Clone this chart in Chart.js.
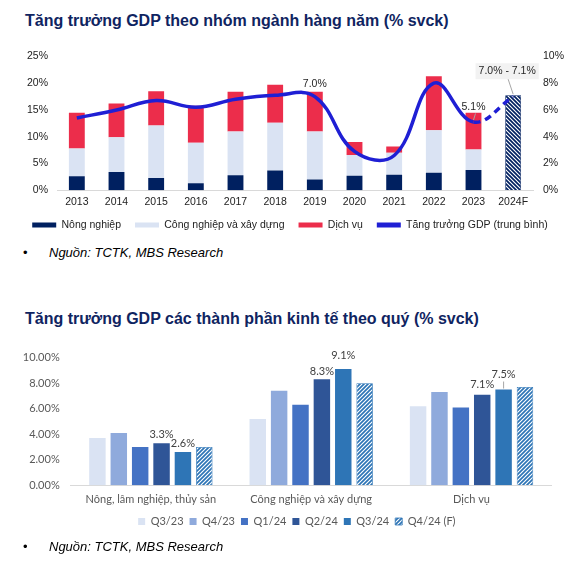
<!DOCTYPE html>
<html><head><meta charset="utf-8">
<script src="https://cdn.jsdelivr.net/npm/chart.js@4.4.1/dist/chart.umd.min.js"></script>
<style>
html,body{margin:0;padding:0;background:#fff;width:580px;height:565px;overflow:hidden;position:relative;font-family:"Liberation Sans",Arial,sans-serif;}
.title{position:absolute;left:25px;font-weight:bold;font-size:16px;line-height:16px;color:#0f2461;white-space:nowrap;}
.src{position:absolute;font-size:13px;line-height:13px;color:#000;white-space:nowrap;}
canvas{position:absolute;left:0;}
</style></head><body>
<div class="title" style="top:13px">Tăng trưởng GDP theo nhóm ngành hàng năm (% svck)</div>
<canvas id="c1" width="580" height="215" style="top:30px"></canvas>
<div class="src" style="top:246px;left:23px">•</div>
<div class="src" style="top:246px;left:49px;font-style:italic">Nguồn: TCTK, MBS Research</div>
<div class="title" style="top:311px">Tăng trưởng GDP các thành phần kinh tế theo quý (% svck)</div>
<canvas id="c2" width="580" height="200" style="top:340px"></canvas>
<div class="src" style="top:540px;left:23px">•</div>
<div class="src" style="top:540px;left:49px;font-style:italic">Nguồn: TCTK, MBS Research</div>
<script>
// ---------- Chart 1 data ----------
const years = ['2013','2014','2015','2016','2017','2018','2019','2020','2021','2022','2023','2024F'];
const agri     = [2.6, 3.4, 2.3, 1.3, 2.8, 3.7, 2.0, 2.7, 2.9, 3.3, 3.8, null];
const industry = [5.2, 6.5, 9.8, 7.6, 8.2, 8.9, 9.0, 3.9, 4.1, 7.9, 3.8, null];
const services = [6.7, 6.3, 6.4, 6.9, 7.4, 7.1, 7.4, 2.4, 1.2, 10.1, 6.9, null];
const forecast2024 = [null, null, null, null, null, null, null, null, null, null, null, 7.1];
const gdp      = [5.4, 6.0, 6.7, 6.2, 6.8, 7.1, 7.0, 2.9, 2.6, 8.0, 5.1, 7.0];
const chart1Labels = ['7.0%', '5.1%', '7.0% - 7.1%'];
const series1Names = ['Nông nghiệp', 'Công nghiệp và xây dựng', 'Dịch vụ', 'Tăng trưởng GDP (trung bình)', '2024F'];

// ---------- Chart 2 data ----------
const sectors  = ['Nông, lâm nghiệp, thủy sản', 'Công nghiệp và xây dựng', 'Dịch vụ'];
const quarters = ['Q3/23', 'Q4/23', 'Q1/24', 'Q2/24', 'Q3/24', 'Q4/24 (F)'];
const q3_23  = [3.7, 5.2, 6.2];
const q4_23  = [4.1, 7.4, 7.3];
const q1_24  = [3.0, 6.3, 6.1];
const q2_24  = [3.3, 8.3, 7.1];
const q3_24  = [2.6, 9.1, 7.5];
const q4_24f = [3.0, 8.0, 7.7];
const chart2Labels = ['3.3%', '2.6%', '8.3%', '9.1%', '7.1%', '7.5%'];

// ---------- helpers ----------
function hatch(color, dir, s) {
  const c = document.createElement('canvas'); c.width = s; c.height = s;
  const g = c.getContext('2d');
  g.fillStyle = '#fff'; g.fillRect(0, 0, s, s);
  g.strokeStyle = color; g.lineWidth = s * 0.42;
  g.beginPath();
  for (let k = -1; k <= 1; k++) {
    if (dir === '/') { g.moveTo(k * s - 1, s + 1); g.lineTo(k * s + s + 1, -1); }
    else { g.moveTo(k * s - 1, -1); g.lineTo(k * s + s + 1, s + 1); }
  }
  g.stroke();
  return g.createPattern(c, 'repeat');
}

const labelPlugin = {
  id: 'valLabels',
  afterDatasetsDraw(chart, args, opts) {
    const ctx = chart.ctx;
    (opts.items || []).forEach(it => {
      const el = chart.getDatasetMeta(it.ds).data[it.idx];
      if (!el) return;
      const x = el.x + (it.dx || 0), y = el.y - it.dy;
      ctx.save();
      ctx.font = opts.font;
      if (it.box) {
        const w = ctx.measureText(it.text).width + 2 * it.box.padX;
        ctx.fillStyle = it.box.fill;
        ctx.fillRect(x - w / 2, y - it.box.h / 2, w, it.box.h);
      }
      if (it.leader) {
        ctx.strokeStyle = '#a6a6a6'; ctx.lineWidth = 1;
        ctx.beginPath();
        ctx.moveTo(x + it.leader[0], y + it.leader[1]);
        ctx.lineTo(el.x, el.y - it.leader[2]);
        ctx.stroke();
      }
      ctx.fillStyle = opts.color; ctx.textAlign = 'center'; ctx.textBaseline = 'middle';
      ctx.fillText(it.text, x, y);
      ctx.restore();
    });
  }
};

const legendShift = {
  id: 'legendShift',
  afterLayout(chart, args, opts) {
    if (chart.legend && opts.dx) { chart.legend.left += opts.dx; chart.legend.right += opts.dx; }
  }
};

Chart.defaults.font.family = '"Liberation Sans", Arial, sans-serif';
Chart.defaults.plugins.tooltip.enabled = false;

// ---------- Chart 1 ----------
const navy = '#002060', lightBlue = '#dae3f3', red = '#ec2d4b', lineBlue = '#1f1fd4';
new Chart(document.getElementById('c1'), {
  type: 'bar',
  data: {
    labels: years,
    datasets: [
      { label: series1Names[0], data: agri, backgroundColor: navy, stack: 's', yAxisID: 'y' },
      { label: series1Names[1], data: industry, backgroundColor: lightBlue, stack: 's', yAxisID: 'y' },
      { label: series1Names[2], data: services, backgroundColor: red, stack: 's', yAxisID: 'y' },
      { label: series1Names[3], type: 'line', data: gdp, borderColor: lineBlue, backgroundColor: lineBlue,
        borderWidth: 3.5, pointRadius: 0, tension: 0.4, yAxisID: 'y1', order: -1,
        segment: { borderDash: c => c.p0DataIndex >= 10 ? [7, 5] : undefined } },
      { label: series1Names[4], data: forecast2024, backgroundColor: hatch(navy, '\\', 4),
        borderColor: navy, borderWidth: 0.8, stack: 's', yAxisID: 'y1' }
    ]
  },
  options: {
    responsive: false, animation: false,
    layout: { padding: { top: 26.4, bottom: 4.7, left: 0, right: 0 } },
    datasets: { bar: { barPercentage: 0.4, categoryPercentage: 1 } },
    scales: {
      x: {
        grid: { display: false, drawTicks: false },
        border: { display: true, color: '#d9d9d9' },
        ticks: { color: '#222', font: { size: 10.5 }, padding: 6 },
        afterFit: s => { s.height = 15.5; }
      },
      y: {
        position: 'left', min: 0, max: 25,
        grid: { display: false, drawTicks: false }, border: { display: false },
        ticks: { stepSize: 5, color: '#222', font: { size: 10.5 }, padding: 9, callback: v => v + '%' },
        afterFit: s => { s.width = 57; }
      },
      y1: {
        position: 'right', min: 0, max: 10,
        grid: { display: false, drawTicks: false }, border: { display: false },
        ticks: { stepSize: 2, color: '#222', font: { size: 10.5 }, padding: 10, callback: v => v + '%' },
        afterFit: s => { s.width = 47; }
      }
    },
    plugins: {
      legend: {
        position: 'bottom',
        labels: {
          boxWidth: 24, boxHeight: 5, padding: 14, color: '#222', font: { size: 10.5 },
          filter: item => item.datasetIndex !== 4,
          sort: (a, b) => a.datasetIndex - b.datasetIndex,
          generateLabels: chart => Chart.defaults.plugins.legend.labels.generateLabels(chart)
            .map(i => Object.assign(i, { lineWidth: 0, lineDash: [] }))
        }
      },
      valLabels: {
        font: '10.5px "Liberation Sans", Arial, sans-serif', color: '#262626',
        items: [
          { ds: 3, idx: 6, text: chart1Labels[0], dy: 12 },
          { ds: 3, idx: 10, text: chart1Labels[1], dy: 14.5, leader: [2, 6, 2] },
          { ds: 4, idx: 11, text: chart1Labels[2], dy: 24, dx: -6, box: { fill: '#f2f2f2', h: 16, padX: 3 }, leader: [1, 8, 1] }
        ]
      }
    }
  },
  plugins: [labelPlugin]
});

// ---------- Chart 2 ----------
const series2 = [q3_23, q4_23, q1_24, q2_24, q3_24, q4_24f];
const colors2 = ['#dae3f3', '#8faadc', '#4472c4', '#2f5597', '#2e75b6', hatch('#2e75b6', '/', 4)];
new Chart(document.getElementById('c2'), {
  type: 'bar',
  data: {
    labels: sectors,
    datasets: quarters.map((q, i) => ({
      label: q, data: series2[i], backgroundColor: colors2[i],
      borderColor: i === 5 ? '#2e75b6' : colors2[i], borderWidth: i === 5 ? 0.8 : 0
    }))
  },
  options: {
    responsive: false, animation: false,
    layout: { padding: { top: 16.7, right: 28.3, bottom: 3, left: 0 } },
    datasets: { bar: { barPercentage: 0.77, categoryPercentage: 0.8 } },
    scales: {
      x: {
        grid: { display: false, drawTicks: false },
        border: { display: true, color: '#d9d9d9' },
        ticks: { color: '#595959', font: { family: 'Lato', size: 11 }, padding: 8 },
        afterFit: s => { s.height = 24.7; }
      },
      y: {
        min: 0, max: 10,
        grid: { display: false, drawTicks: false }, border: { display: false },
        ticks: { stepSize: 2, color: '#595959', font: { family: 'Lato', size: 11 }, padding: 11,
          callback: v => v.toFixed(2) + '%' },
        afterFit: s => { s.width = 70.7; }
      }
    },
    plugins: {
      legend: {
        position: 'bottom',
        labels: { boxWidth: 7, boxHeight: 7, padding: 6, color: '#595959', font: { family: 'Lato', size: 11 } }
      },
      legendShift: { dx: 21 },
      valLabels: {
        font: '11px Lato', color: '#404040',
        items: [
          { ds: 3, idx: 0, text: chart2Labels[0], dy: 9 },
          { ds: 4, idx: 0, text: chart2Labels[1], dy: 9 },
          { ds: 3, idx: 1, text: chart2Labels[2], dy: 7.5 },
          { ds: 4, idx: 1, text: chart2Labels[3], dy: 13.7 },
          { ds: 3, idx: 2, text: chart2Labels[4], dy: 10 },
          { ds: 4, idx: 2, text: chart2Labels[5], dy: 15, leader: [0, 7, 1] }
        ]
      }
    }
  },
  plugins: [labelPlugin, legendShift]
});
</script>
</body></html>
